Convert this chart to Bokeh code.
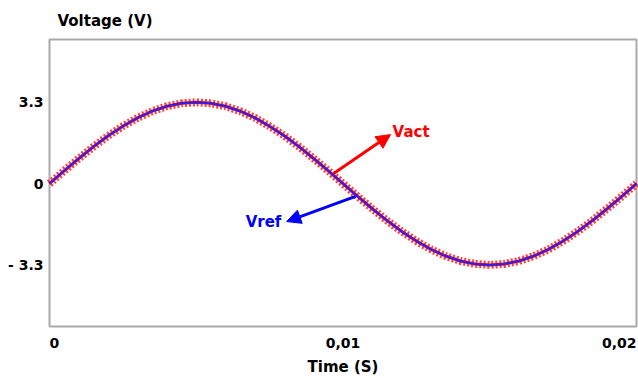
from bokeh.plotting import figure
from bokeh.models import Range1d, Arrow, NormalHead, Label
from bokeh.core.properties import value
from bokeh.embed import file_html
from bokeh.resources import INLINE

# ---- data ----
time_s = [0.0, 0.0005, 0.001, 0.0015, 0.002, 0.0025, 0.003, 0.0035, 0.004, 0.0045,
          0.005, 0.0055, 0.006, 0.0065, 0.007, 0.0075, 0.008, 0.0085, 0.009, 0.0095,
          0.01, 0.0105, 0.011, 0.0115, 0.012, 0.0125, 0.013, 0.0135, 0.014, 0.0145,
          0.015, 0.0155, 0.016, 0.0165, 0.017, 0.0175, 0.018, 0.0185, 0.019, 0.0195, 0.02]
vref = [0.0, 0.52, 1.02, 1.50, 1.94, 2.33, 2.67, 2.94, 3.14, 3.26,
        3.30, 3.26, 3.14, 2.94, 2.67, 2.33, 1.94, 1.50, 1.02, 0.52,
        0.0, -0.52, -1.02, -1.50, -1.94, -2.33, -2.67, -2.94, -3.14, -3.26,
        -3.30, -3.26, -3.14, -2.94, -2.67, -2.33, -1.94, -1.50, -1.02, -0.52, 0.0]
vact = [0.0, 0.52, 1.02, 1.50, 1.94, 2.33, 2.67, 2.94, 3.14, 3.26,
        3.30, 3.26, 3.14, 2.94, 2.67, 2.33, 1.94, 1.50, 1.02, 0.52,
        0.0, -0.52, -1.02, -1.50, -1.94, -2.33, -2.67, -2.94, -3.14, -3.26,
        -3.30, -3.26, -3.14, -2.94, -2.67, -2.33, -1.94, -1.50, -1.02, -0.52, 0.0]
y_ticks = [-3.3, 0, 3.3]
y_tick_labels = ["- 3.3", "0", "3.3"]
x_ticks = [0.0, 0.01, 0.02]
x_tick_labels = ["0", "0,01", "0,02"]

# plot box (axis limits)
X_MIN, X_MAX = 0.0, 0.02
Y_MIN, Y_MAX = -5.8, 5.85

FONT = "DejaVu Sans"
W, H = 638, 378
BOX_L, BOX_R, BOX_T, BOX_B = 49, 636, 39, 326   # pixel edges of the plot box

sx = (X_MAX - X_MIN) / (BOX_R - BOX_L)
sy = (Y_MAX - Y_MIN) / (BOX_B - BOX_T)
x_range = Range1d(X_MIN - BOX_L * sx, X_MAX + (W - BOX_R) * sx)
y_range = Range1d(Y_MIN - (H - BOX_B) * sy, Y_MAX + BOX_T * sy)

p = figure(width=W, height=H, output_backend="svg", toolbar_location=None,
           x_range=x_range, y_range=y_range,
           x_axis_location=None, y_axis_location=None, min_border=0)
p.background_fill_color = "white"
p.border_fill_color = "white"
p.outline_line_color = None
p.grid.visible = False

# plot box
p.quad(left=[X_MIN], right=[X_MAX], bottom=[Y_MIN], top=[Y_MAX],
       fill_color=None, line_color="#a9a9a9", line_width=2)

# y tick labels
p.text(x=[X_MIN] * len(y_ticks), y=y_ticks, text=y_tick_labels, x_offset=-6,
       text_align="right", text_baseline="middle", text_font=value(FONT),
       text_font_style="bold", text_font_size="14px", text_color="black")

# x tick labels (end labels aligned to the box edges)
aligns = ["left", "center", "right"]
for xv, txt, al in zip(x_ticks, x_tick_labels, aligns):
    p.text(x=[xv], y=[Y_MIN], text=[txt], y_offset=16, text_align=al,
           text_baseline="middle", text_font=value(FONT), text_font_style="bold",
           text_font_size="14px", text_color="black")

# axis titles
p.text(x=[X_MIN], y=[Y_MAX], text=["Voltage (V)"], x_offset=8, y_offset=-19,
       text_align="left", text_baseline="middle", text_font=value(FONT),
       text_font_style="bold", text_font_size="15px", text_color="black")
p.text(x=[(X_MIN + X_MAX) / 2], y=[Y_MIN], text=["Time (S)"], y_offset=40,
       text_align="center", text_baseline="middle", text_font=value(FONT),
       text_font_style="bold", text_font_size="15px", text_color="black")

# curves
p.line(time_s, vact, line_color="red", line_width=3)
p.line(time_s, vact, line_color="red", line_width=8, line_dash="2 2", line_alpha=0.75)
p.line(time_s, vref, line_color="#2222ff", line_width=2)

# annotations
vact_arrow = dict(x0=0.00968, y0=0.41, x1=0.01162, y1=1.99)
vref_arrow = dict(x0=0.01043, y0=-0.52, x1=0.00808, y1=-1.54)

p.add_layout(Arrow(end=NormalHead(size=14, fill_color="red", line_color="red"),
                   x_start=vact_arrow["x0"], y_start=vact_arrow["y0"],
                   x_end=vact_arrow["x1"], y_end=vact_arrow["y1"],
                   line_color="red", line_width=3))
p.add_layout(Arrow(end=NormalHead(size=14, fill_color="blue", line_color="blue"),
                   x_start=vref_arrow["x0"], y_start=vref_arrow["y0"],
                   x_end=vref_arrow["x1"], y_end=vref_arrow["y1"],
                   line_color="blue", line_width=3))
p.add_layout(Label(x=0.01169, y=2.11, text="Vact", text_align="left", text_baseline="middle",
                   text_font=FONT, text_font_style="bold", text_font_size="15px",
                   text_color="red"))
p.add_layout(Label(x=0.0079, y=-1.54, text="Vref", text_align="right", text_baseline="middle",
                   text_font=FONT, text_font_style="bold", text_font_size="15px",
                   text_color="blue"))

open("out.html", "w").write(file_html(p, INLINE))
